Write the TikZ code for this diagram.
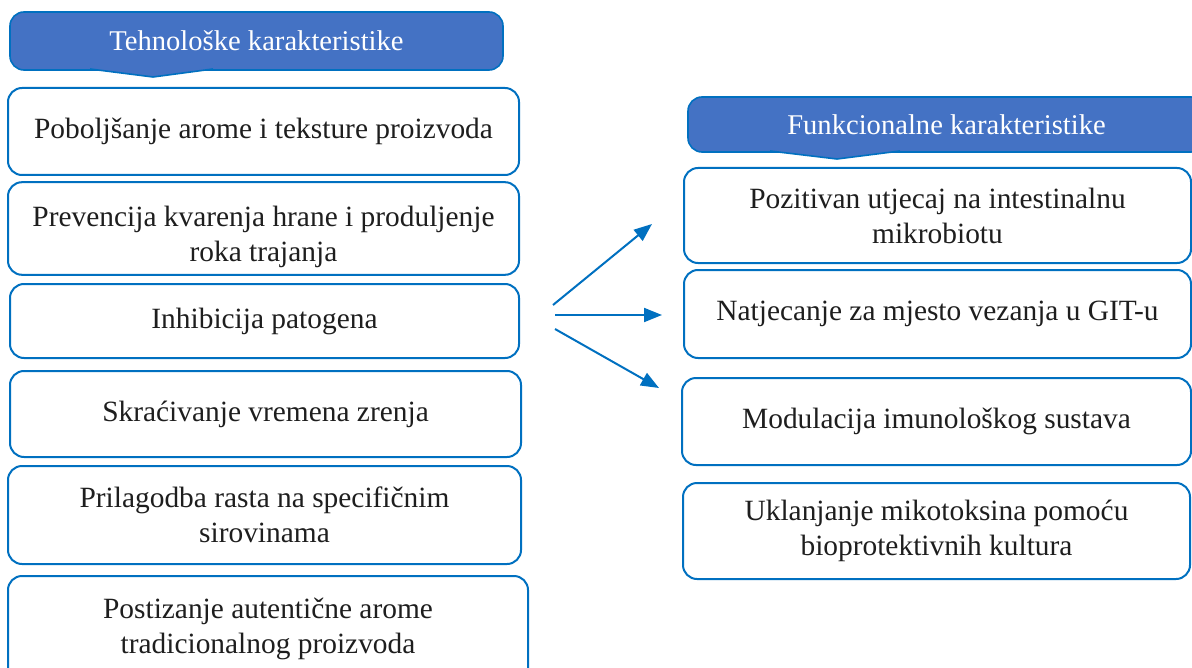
\documentclass[tikz,border=0pt]{standalone}
\usepackage{fontspec}
\setmainfont{Liberation Serif}
\usepackage{tikz}
\usetikzlibrary{arrows.meta,positioning}

\definecolor{boxblue}{HTML}{0070C0}
\definecolor{headfill}{HTML}{4472C4}
\definecolor{txtgray}{HTML}{1E1E1E}

\tikzset{
  box/.style={draw=boxblue, line width=1pt, rounded corners=7pt, fill=white,
    align=center, text=txtgray, font=\fontsize{14.7}{17.5}\selectfont},
  head/.style={draw=boxblue, line width=0.8pt, rounded corners=7pt, fill=headfill,
    align=center, text=white, font=\fontsize{14.3}{17}\selectfont},
  arr/.style={draw=boxblue, line width=1pt, -{Triangle[length=9pt,width=7pt]}}
}

\begin{document}
\begin{tikzpicture}[x=0.5pt,y=-0.5pt]
  \useasboundingbox (0,0) rectangle (1192,668);
  \clip (0,0) rectangle (1192,668);

  % left column header
  \node[head, minimum width=246.5pt, minimum height=29pt] (tech) at (256.5,41) {Tehnološke karakteristike};
  \filldraw[fill=headfill, draw=boxblue, line width=0.8pt] (90,69) -- (153,77) -- (213,69);

  % left column
  \node[box, minimum width=255.5pt, minimum height=43.5pt] (arom) at (263.5,131.5) {Poboljšanje arome i teksture proizvoda};
  \node[box, minimum width=255.5pt, minimum height=45.5pt] (prev) at (263.5,228.5) {\rule{0pt}{19pt}Prevencija kvarenja hrane i produljenje\\roka trajanja};
  \node[box, minimum width=254.5pt, minimum height=37pt] (inhib) at (264.5,321) {Inhibicija patogena};
  \node[box, minimum width=255.5pt, minimum height=43pt] (zrenje) at (265.5,414) {Skraćivanje vremena zrenja};
  \node[box, minimum width=256.5pt, minimum height=49pt] (rast) at (264.5,515) {Prilagodba rasta na specifičnim\\sirovinama};
  \node[box, minimum width=260pt, minimum height=53pt] (tradic) at (268,629) {Postizanje autentične arome\\tradicionalnog proizvoda};

  % right column header
  \node[head, minimum width=258.5pt, minimum height=27.5pt] (funk) at (946.5,124.5) {Funkcionalne karakteristike};
  \filldraw[fill=headfill, draw=boxblue, line width=0.8pt] (770,151) -- (837,159) -- (900,151);

  % right column
  \node[box, minimum width=253.5pt, minimum height=47.5pt] (mikro) at (937.5,215.5) {Pozitivan utjecaj na intestinalnu\\mikrobiotu};
  \node[box, minimum width=253.5pt, minimum height=44pt] (git) at (937.5,314) {Natjecanje za mjesto vezanja u GIT-u};
  \node[box, minimum width=254.5pt, minimum height=43.5pt] (imun) at (936.5,421.5) {Modulacija imunološkog sustava};
  \node[box, minimum width=253.5pt, minimum height=48pt] (toks) at (936.5,531) {Uklanjanje mikotoksina pomoću\\bioprotektivnih kultura};

  % arrows
  \coordinate (s1) at (553,305);
  \coordinate (s2) at (555,315);
  \coordinate (s3) at (555,329);
  \coordinate (e1) at (652,224);
  \coordinate (e2) at (662,315);
  \coordinate (e3) at (659,388);
  \draw[arr] (s1) -- (e1);
  \draw[arr] (s2) -- (e2);
  \draw[arr] (s3) -- (e3);

\end{tikzpicture}
\end{document}
